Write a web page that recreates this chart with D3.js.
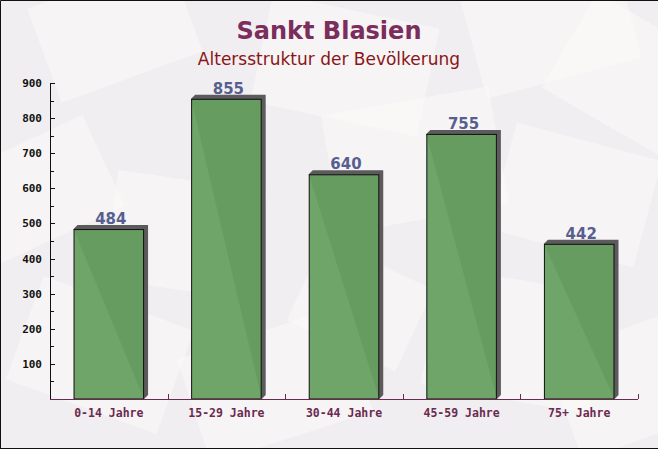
<!DOCTYPE html>
<html>
<head>
<meta charset="utf-8">
<script src="https://cdn.jsdelivr.net/npm/d3@7"></script>
<style>
  body { margin: 0; padding: 0; background: #fff; }
  svg { display: block; }
</style>
</head>
<body>
<div id="chart"></div>
<script>
// Data
var categories = ["0-14 Jahre", "15-29 Jahre", "30-44 Jahre", "45-59 Jahre", "75+ Jahre"];
var values = [484, 855, 640, 755, 442];
var yTicks = [100, 200, 300, 400, 500, 600, 700, 800, 900];
var titleText = "Sankt Blasien";
var subtitleText = "Altersstruktur der Bevölkerung";

var width = 658, height = 449;
var margin = {top: 83, right: 20, bottom: 50, left: 50};

var svg = d3.select("#chart").append("svg")
  .attr("width", width)
  .attr("height", height);

// Background
svg.append("rect")
  .attr("width", width)
  .attr("height", height)
  .attr("fill", "#f1eef1");

// Faint envelope shapes in the background
var deco = [
  [40, -20, 150, 100, -20], [260, 10, 170, 110, 12], [470, -30, 160, 110, -15],
  [560, 20, 140, 110, 30], [-30, 140, 140, 100, -25], [110, 180, 150, 110, 8],
  [330, 100, 170, 120, -10], [500, 140, 150, 110, 15], [20, 300, 160, 110, 20],
  [190, 330, 170, 110, -18], [430, 280, 170, 120, 10], [560, 330, 140, 110, -20],
  [300, 260, 120, 90, 25]
];
svg.append("g").selectAll("rect")
  .data(deco)
  .enter()
  .append("rect")
  .attr("x", function(d) { return d[0]; })
  .attr("y", function(d) { return d[1]; })
  .attr("width", function(d) { return d[2]; })
  .attr("height", function(d) { return d[3]; })
  .attr("transform", function(d) {
    return "rotate(" + d[4] + "," + (d[0] + d[2] / 2) + "," + (d[1] + d[3] / 2) + ")";
  })
  .attr("fill", "#fbf9f9")
  .attr("opacity", 0.6);

// Frame lines
svg.append("path")
  .attr("d", "M0.5,449 V0.5 H658 M0,448.5 H658")
  .attr("fill", "none")
  .attr("stroke", "#111")
  .attr("stroke-width", 1);

// Scales
var x = d3.scaleBand()
  .domain(categories)
  .range([margin.left, width - margin.right])
  .paddingInner(0.4)
  .paddingOuter(0.2);

var y = d3.scaleLinear()
  .domain([0, 900])
  .range([height - margin.bottom, margin.top]);

var y0 = y(0);
var dx = 4, dy = 4;

// Bar shadows
svg.append("g").selectAll("path")
  .data(values)
  .enter()
  .append("path")
  .attr("d", function(d, i) {
    var x0 = x(categories[i]), x1 = x0 + x.bandwidth(), t = y(d);
    return "M" + x0 + "," + t + " L" + (x0 + dx) + "," + (t - dy) +
      " L" + (x1 + dx) + "," + (t - dy) + " L" + (x1 + dx) + "," + (y0 - dy) +
      " L" + x1 + "," + y0 + " Z";
  })
  .attr("fill", "#5c5a5c");

// Bars
svg.append("g").selectAll("rect")
  .data(values)
  .enter()
  .append("rect")
  .attr("x", function(d, i) { return x(categories[i]) + 0.5; })
  .attr("y", function(d) { return y(d) + 0.5; })
  .attr("width", x.bandwidth() - 1)
  .attr("height", function(d) { return y0 - y(d) - 0.5; })
  .attr("fill", "#67a061")
  .attr("fill-opacity", 0.95)
  .attr("stroke", "#111")
  .attr("stroke-width", 1);

// Value labels
svg.append("g").selectAll("text")
  .data(values)
  .enter()
  .append("text")
  .attr("x", function(d, i) { return x(categories[i]) + x.bandwidth() / 2 + 2; })
  .attr("y", function(d) { return y(d) - 5; })
  .attr("text-anchor", "middle")
  .attr("font-family", "DejaVu Sans, sans-serif")
  .attr("font-weight", "bold")
  .attr("font-size", "15px")
  .attr("fill", "#575f8f")
  .text(function(d) { return d; });

// Y axis
var yAxis = d3.axisLeft(y)
  .tickValues(yTicks)
  .tickSize(0)
  .tickPadding(8)
  .tickFormat(d3.format("d"));

var yg = svg.append("g")
  .attr("transform", "translate(" + margin.left + ",0)")
  .call(yAxis);
yg.select(".domain").remove();
yg.selectAll("text")
  .attr("font-family", "DejaVu Sans Mono, monospace")
  .attr("font-weight", "bold")
  .attr("font-size", "11px")
  .attr("fill", "#111");

// y axis line and inward ticks (major + minor)
var minor = d3.range(50, 900, 100);
svg.append("line")
  .attr("x1", margin.left + 0.5).attr("x2", margin.left + 0.5)
  .attr("y1", y(900)).attr("y2", y0)
  .attr("stroke", "#111");
svg.append("g").selectAll("line")
  .data(yTicks.concat(minor))
  .enter()
  .append("line")
  .attr("x1", margin.left)
  .attr("x2", function(d) { return d % 100 === 0 ? margin.left + 5 : margin.left + 4; })
  .attr("y1", function(d) { return Math.round(y(d)) + 0.5; })
  .attr("y2", function(d) { return Math.round(y(d)) + 0.5; })
  .attr("stroke", "#111");

// X axis
var xAxis = d3.axisBottom(x)
  .tickSize(0)
  .tickPadding(10);
var xg = svg.append("g")
  .attr("transform", "translate(0," + y0 + ")")
  .call(xAxis);
xg.select(".domain").remove();
xg.selectAll("text")
  .attr("font-family", "DejaVu Sans Mono, monospace")
  .attr("font-weight", "bold")
  .attr("font-size", "11.5px")
  .attr("fill", "#6b2a50");

svg.append("line")
  .attr("x1", margin.left).attr("x2", width - margin.right)
  .attr("y1", y0 + 0.5).attr("y2", y0 + 0.5)
  .attr("stroke", "#6b2a50");

// x ticks between categories, pointing up
var bounds = d3.range(1, categories.length + 1).map(function(i) {
  return margin.left + i * x.step();
});
svg.append("g").selectAll("line")
  .data(bounds)
  .enter()
  .append("line")
  .attr("x1", function(d) { return Math.round(d) + 0.5; })
  .attr("x2", function(d) { return Math.round(d) + 0.5; })
  .attr("y1", y0 - 5)
  .attr("y2", y0)
  .attr("stroke", "#6b2a50");

// Titles
svg.append("text")
  .attr("x", width / 2)
  .attr("y", 39)
  .attr("text-anchor", "middle")
  .attr("font-family", "DejaVu Sans, sans-serif")
  .attr("font-weight", "bold")
  .attr("font-size", "24px")
  .attr("fill", "#7b2d5b")
  .text(titleText);

svg.append("text")
  .attr("x", width / 2)
  .attr("y", 65)
  .attr("text-anchor", "middle")
  .attr("font-family", "DejaVu Sans, sans-serif")
  .attr("font-size", "17px")
  .attr("fill", "#8b1418")
  .text(subtitleText);
</script>
</body>
</html>
